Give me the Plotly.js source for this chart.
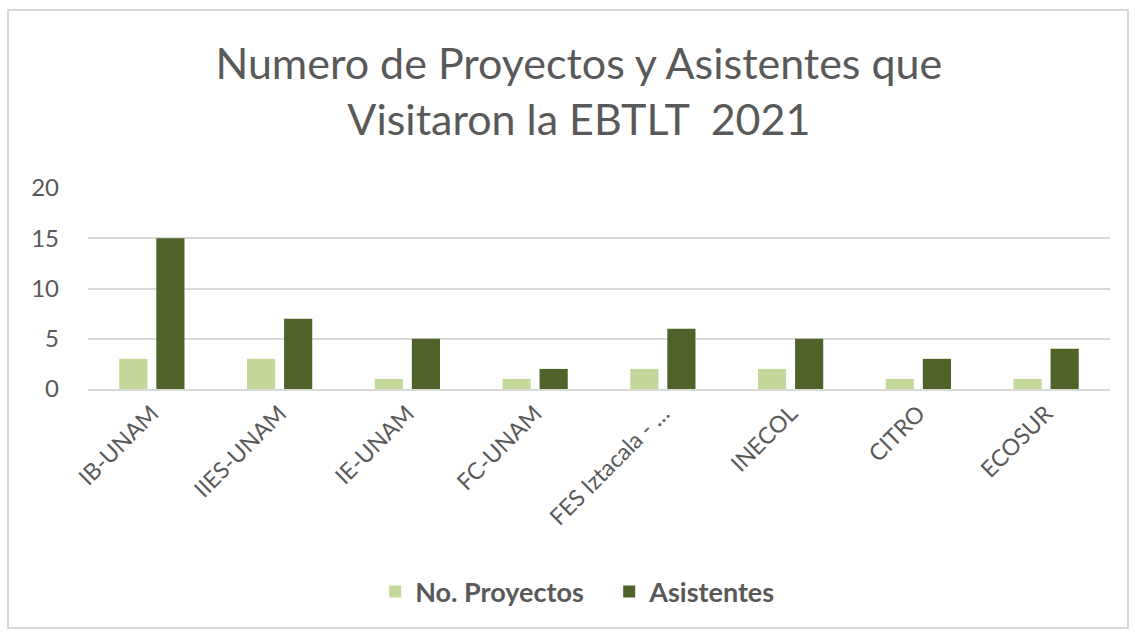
<!DOCTYPE html>
<html><head><meta charset="utf-8">
<script src="https://cdn.plot.ly/plotly-3.0.1.min.js"></script>
<style>
html,body{margin:0;padding:0;background:#fff;}
#wrap{position:relative;width:1135px;height:635px;}
#frame{position:absolute;left:7px;top:9px;width:1122px;height:620px;border:2px solid #d9d9d9;box-sizing:border-box;pointer-events:none;}
#chart{position:absolute;left:0;top:0;width:1135px;height:635px;}
</style></head>
<body><div id="wrap"><div id="chart"></div><div id="frame"></div></div>
<script>
const categories = ["IB-UNAM","IIES-UNAM","IE-UNAM","FC-UNAM","FES Iztacala - …","INECOL","CITRO","ECOSUR"];
const proyectos = [3,3,1,1,2,2,1,1];
const asistentes = [15,7,5,2,6,5,3,4];
const seriesNames = ["No. Proyectos","Asistentes"];
const yTicks = [0,5,10,15,20];

const font = "Lato, 'Open Sans', sans-serif";
const grey = "#595959";
const traces = [
  {type:"bar", name:seriesNames[0], x:categories, y:proyectos, marker:{color:"#C5D89C"}},
  {type:"bar", name:seriesNames[1], x:categories, y:asistentes, marker:{color:"#4F622A"}}
];
const layout = {
  width:1135, height:635,
  paper_bgcolor:"rgba(0,0,0,0)", plot_bgcolor:"#fff",
  margin:{l:88, r:25, t:188, b:246},
  barmode:"group", bargap:0.42, bargroupgap:0.24,
  title:{text:"Numero de Proyectos y Asistentes que<br>Visitaron la EBTLT  2021", x:0.51, xanchor:"center", y:0.876, yanchor:"middle", yref:"container",
         font:{family:font, size:43, color:grey}},
  xaxis:{tickangle:-45, tickfont:{family:font, size:23, color:grey}, showline:true, linecolor:"#d9d9d9", linewidth:2, ticks:"", showgrid:false},
  yaxis:{range:[0,20], tickvals:yTicks, tickfont:{family:font, size:24, color:grey}, gridcolor:"#d9d9d9", gridwidth:2, zeroline:false, ticks:"", ticklen:0, showline:false, ticklabelstandoff:28},
  legend:{orientation:"h", x:0.281, xanchor:"left", y:-1.01, yanchor:"middle", font:{family:font, size:27, color:grey, weight:"bold"}, entrywidth:189, entrywidthmode:"pixels"},
  showlegend:true
};
Plotly.newPlot("chart", traces, layout, {displayModeBar:false, staticPlot:true});
</script></body></html>
